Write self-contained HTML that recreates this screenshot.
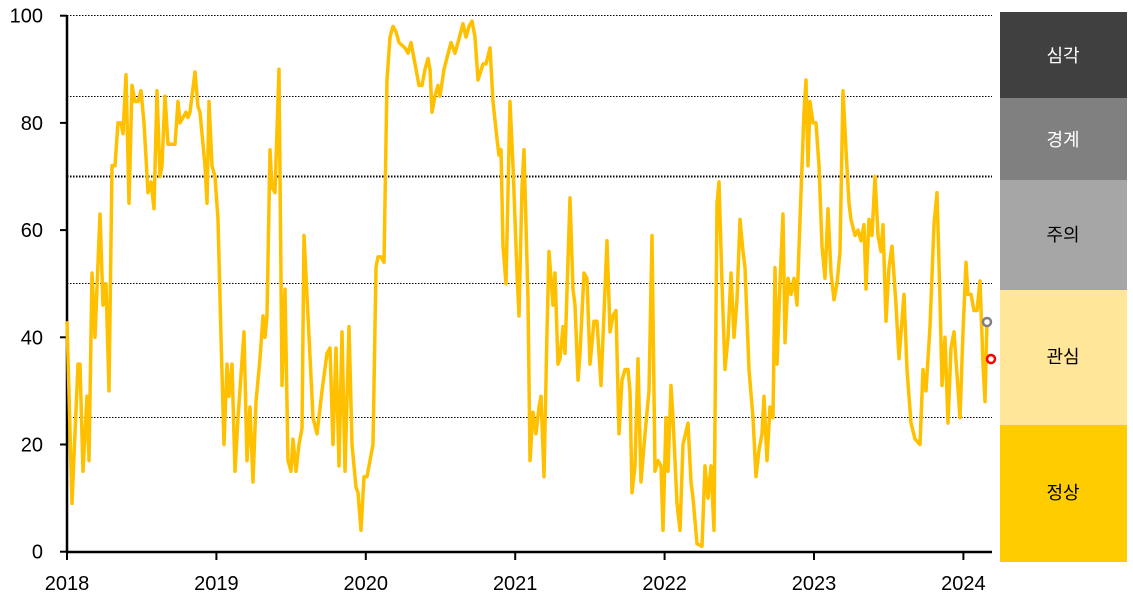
<!DOCTYPE html>
<html><head><meta charset="utf-8"><style>
body{margin:0;background:#fff;width:1133px;height:603px;overflow:hidden}
svg text{font-family:"Liberation Sans","Noto Sans CJK KR",sans-serif}
</style></head><body>
<svg id="s" width="1133" height="603" xmlns="http://www.w3.org/2000/svg">
<rect x="1000" y="12" width="127" height="86" fill="#404040"/>
<rect x="1000" y="98" width="127" height="82" fill="#808080"/>
<rect x="1000" y="180" width="127" height="110" fill="#a6a6a6"/>
<rect x="1000" y="290" width="127" height="135" fill="#ffe699"/>
<rect x="1000" y="425" width="127" height="137" fill="#ffcc00"/>
<g font-size="18" text-anchor="middle">
<text x="1063" y="62" fill="#fff">심각</text>
<text x="1063" y="146" fill="#fff">경계</text>
<text x="1063" y="241" fill="#000">주의</text>
<text x="1063" y="363" fill="#000">관심</text>
<text x="1063" y="499" fill="#000">정상</text>
</g>
<g stroke="#000" stroke-dasharray="1.5,1.5" fill="none">
<line x1="67" y1="15.5" x2="992" y2="15.5" stroke-width="1"/>
<line x1="67" y1="96.5" x2="992" y2="96.5" stroke-width="1"/>
<line x1="67" y1="176.5" x2="992" y2="176.5" stroke-width="2"/>
<line x1="67" y1="283.5" x2="992" y2="283.5" stroke-width="1"/>
<line x1="67" y1="417.5" x2="992" y2="417.5" stroke-width="1"/>
</g>
<g stroke="#000" stroke-width="2.5" fill="none">
<line x1="67" y1="15" x2="67" y2="553"/>
<line x1="66" y1="552" x2="992" y2="552"/>
</g>
<g id="tk" stroke="#000" stroke-width="2"></g>
<g font-size="20" fill="#000" id="lb"></g>
<polyline id="pl" fill="none" stroke="#ffc000" stroke-width="3.5" stroke-linejoin="round"/>
<circle cx="987" cy="322" r="4" fill="#fff" stroke="#808080" stroke-width="2.5"/>
<circle cx="991" cy="359" r="4" fill="#fff" stroke="#ff0000" stroke-width="2.5"/>
</svg>
<script>
var d=[67,43,72,9,78,35,80,35,83,15,87,29,89,17,92,52,95,40,100,63,103,46,106,50,109,30,112,72,115,72,118,80,121,80,123,78,126,89,129,65,132,87,135,84,138,84,141,86,144,80,148,67,151,69,154,64,157,86,160,70,162,72,165,85,168,76,172,76,175,76,178,84,180,80,183,81,186,82,188,81,190,82,195,89.5,198,83,200,82,205,72,207,65,209,84,212,72,215,70,218,62,221,40,224,20,227,35,229,29,232,35,235,15,238,25,244,41,247,17,250,27,253,13,256,28,260,36,263,44,265,40,267,44,270,75,272,68,275,67,279,90,282,31,285,49,288,17,291,15,293,21,296,15,299,20,302,23,304,59,308,44,313,25,317,22,322,30,327,37,330,38,333,20,336,38,339,16,342,41,345,15,349,42,352,20,356,12,358,11,361,4,364,14,367,14,370,17,373,20,376,53,378,55,381,55,384,54,387,88,390,96,393,98,396,97,399,95,405,94,408,93,411,95,415,91,419,87,422,87,425,90,428,92,430,90,432,82,435,85,438,87,440,85,444,90,451,95,455,93,458,95,463,98.5,466,96,469,98,472,99,475,96,478,88,483,91,486,91,490,94,493,84,497,77,499,74,501,75,503,57,506,50,510,84,513,72,517,52,519,44,522,68,524,75,528,47,530,17,533,26,536,22,539,27,541,29,544,14,547,41,549,56,553,46,555,52,558,35,560,36,563,42,565,37,570,66,573,49,575,46,578,32,580,37,584,52,587,51,590,35,594,43,597,43,601,31,605,49,607,58,610,41,613,44,616,45,619,22,622,32,625,34,628,34,630,30,632,11,635,16,638,36,641,13,645,22,649,30,652,59,655,15,658,17,661,16,663,4,666,25,668,15,671,31,673,25,677,9,680,4,683,20,688,24,691,13,693,10,697,1.5,702,1,705,16,708,10,711,16,714,4,717,65,719,69,722,50,725,34,728,40,731,52,734,40,737,47,740,62,743,56,745,53,749,34,753,25,756,14,759,19,762,22,764,29,767,17,770,27,773,25,775,53,777,35,780,50,783,63,785,39,788,51,791,48,794,51,797,46,800,62,804,82,806,88,808,72,810,84,813,80,816,80,819,72,822,57,825,51,828,64,831,52,834,47,837,50,840,56,843,86,846,75,849,65,851,62,855,59,858,60,861,58,864,61,866,49,869,62,872,59,875,70,878,59,881,56,883,61,886,43,889,53,892,57,896,46,899,36,904,48,907,34,911,24,915,21,920,20,923,34,926,30,930,42,934,61,937,67,940,47,942,31,945,40,948,24,951,38,954,41,960,25,963,41,966,54,968,48,971,48,974,45,977,45,980,50.5,983,35,985,28,987,43];
var p=[];for(var i=0;i<d.length;i+=2)p.push(d[i]+","+(551.7-d[i+1]*5.36).toFixed(1));
document.getElementById("pl").setAttribute("points",p.join(" "));
var ns="http://www.w3.org/2000/svg",tk=document.getElementById("tk"),lb=document.getElementById("lb");
function el(t,a,par,txt){var e=document.createElementNS(ns,t);for(var k in a)e.setAttribute(k,a[k]);if(txt)e.textContent=txt;par.appendChild(e);}
for(var v=0;v<=100;v+=20){var y=551.7-v*5.36;el("line",{x1:60,y1:y,x2:67,y2:y},tk);el("text",{x:43,y:y+7,"text-anchor":"end"},lb,""+v);}
for(var j=0;j<7;j++){var x=67+j*149.4;el("line",{x1:x,y1:552,x2:x,y2:560},tk);el("text",{x:x,y:590,"text-anchor":"middle"},lb,""+(2018+j));}
</script>
</body></html>
